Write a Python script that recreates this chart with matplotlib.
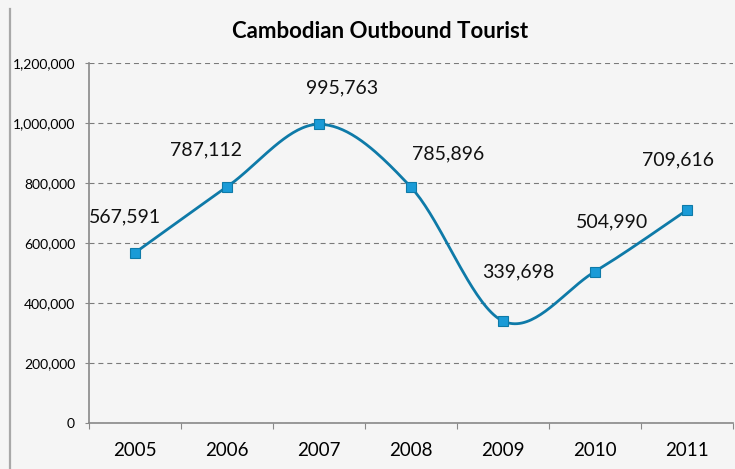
import numpy as np
import matplotlib.pyplot as plt
from matplotlib.lines import Line2D
from matplotlib.ticker import FuncFormatter

years = ['2005', '2006', '2007', '2008', '2009', '2010', '2011']
tourists = [567591, 787112, 995763, 785896, 339698, 504990, 709616]

# label offsets (pixels) relative to each marker
offsets = [(-10, 36), (-21, 37), (23, 36), (37, 33), (15, 49), (17, 50), (-9, 50)]


def smooth(x, y, n=40):
    # Catmull-Rom style bezier, similar to a spreadsheet "smoothed line"
    x = np.asarray(x, float)
    y = np.asarray(y, float)
    px = np.concatenate([[x[0]], x, [x[-1]]])
    py = np.concatenate([[y[0]], y, [y[-1]]])
    xs, ys = [], []
    t = np.linspace(0, 1, n)
    for i in range(1, len(px) - 2):
        p0 = np.array([px[i], py[i]])
        p3 = np.array([px[i + 1], py[i + 1]])
        p1 = p0 + (p3 - np.array([px[i - 1], py[i - 1]])) / 6
        p2 = p3 - (np.array([px[i + 2], py[i + 2]]) - p0) / 6
        b = ((1 - t) ** 3)[:, None] * p0 + (3 * (1 - t) ** 2 * t)[:, None] * p1 \
            + (3 * (1 - t) * t ** 2)[:, None] * p2 + (t ** 3)[:, None] * p3
        xs.extend(b[:, 0])
        ys.extend(b[:, 1])
    return xs, ys


plt.rcParams['font.family'] = ['Lato', 'DejaVu Sans']

fig = plt.figure(figsize=(7.35, 4.69), dpi=100)
fig.patch.set_facecolor('#f5f5f5')
ax = fig.add_axes([89 / 735, 1 - 423 / 469, 644 / 735, 360 / 469])
ax.set_facecolor('none')

# left border of the chart frame
fig.add_artist(Line2D([10 / 735, 10 / 735], [0, 0.98], color='#a8a8a8', lw=1.6))

xpos = np.arange(len(years))
sx, sy = smooth(xpos, tourists)
ax.plot(sx, sy, color='#0e7aa8', lw=2.0, zorder=3)
ax.plot(xpos, tourists, ls='none', marker='s', ms=7, mfc='#1a9bd7',
        mec='#0e7aa8', mew=0.8, zorder=4)

for xi, v, (dx, dy) in zip(xpos, tourists, offsets):
    ax.annotate(f'{v:,}', (xi, v), xytext=(dx, dy), textcoords='offset pixels',
                ha='center', va='center', fontsize=14, color='#111111')

ax.set_xlim(-0.5, len(years) - 0.5)
ax.set_ylim(0, 1200000)
ax.set_yticks(np.arange(0, 1200001, 200000))
ax.yaxis.set_major_formatter(FuncFormatter(lambda v, p: f'{int(v):,}'))
ax.tick_params(axis='y', labelsize=10, length=3, color='#888888', pad=7)

ax.set_xticks(np.arange(-0.5, len(years), 1.0))
ax.set_xticklabels([])
ax.set_xticks(xpos, minor=True)
ax.set_xticklabels(years, minor=True)
ax.tick_params(axis='x', which='major', length=4, color='#888888')
ax.tick_params(axis='x', which='minor', length=0, labelsize=13.5, pad=14)

ax.grid(axis='y', ls=(0, (4.5, 3.5)), color='#7a7a7a', lw=0.8)
for s in ['top', 'right']:
    ax.spines[s].set_visible(False)
for s in ['left', 'bottom']:
    ax.spines[s].set_color('#888888')
    ax.spines[s].set_linewidth(1.2)

fig.text(380 / 735, 1 - 32 / 469, 'Cambodian Outbound Tourist', ha='center',
         va='center', fontsize=16, fontweight='bold')

fig.savefig('out.png', dpi=100, facecolor=fig.get_facecolor())
